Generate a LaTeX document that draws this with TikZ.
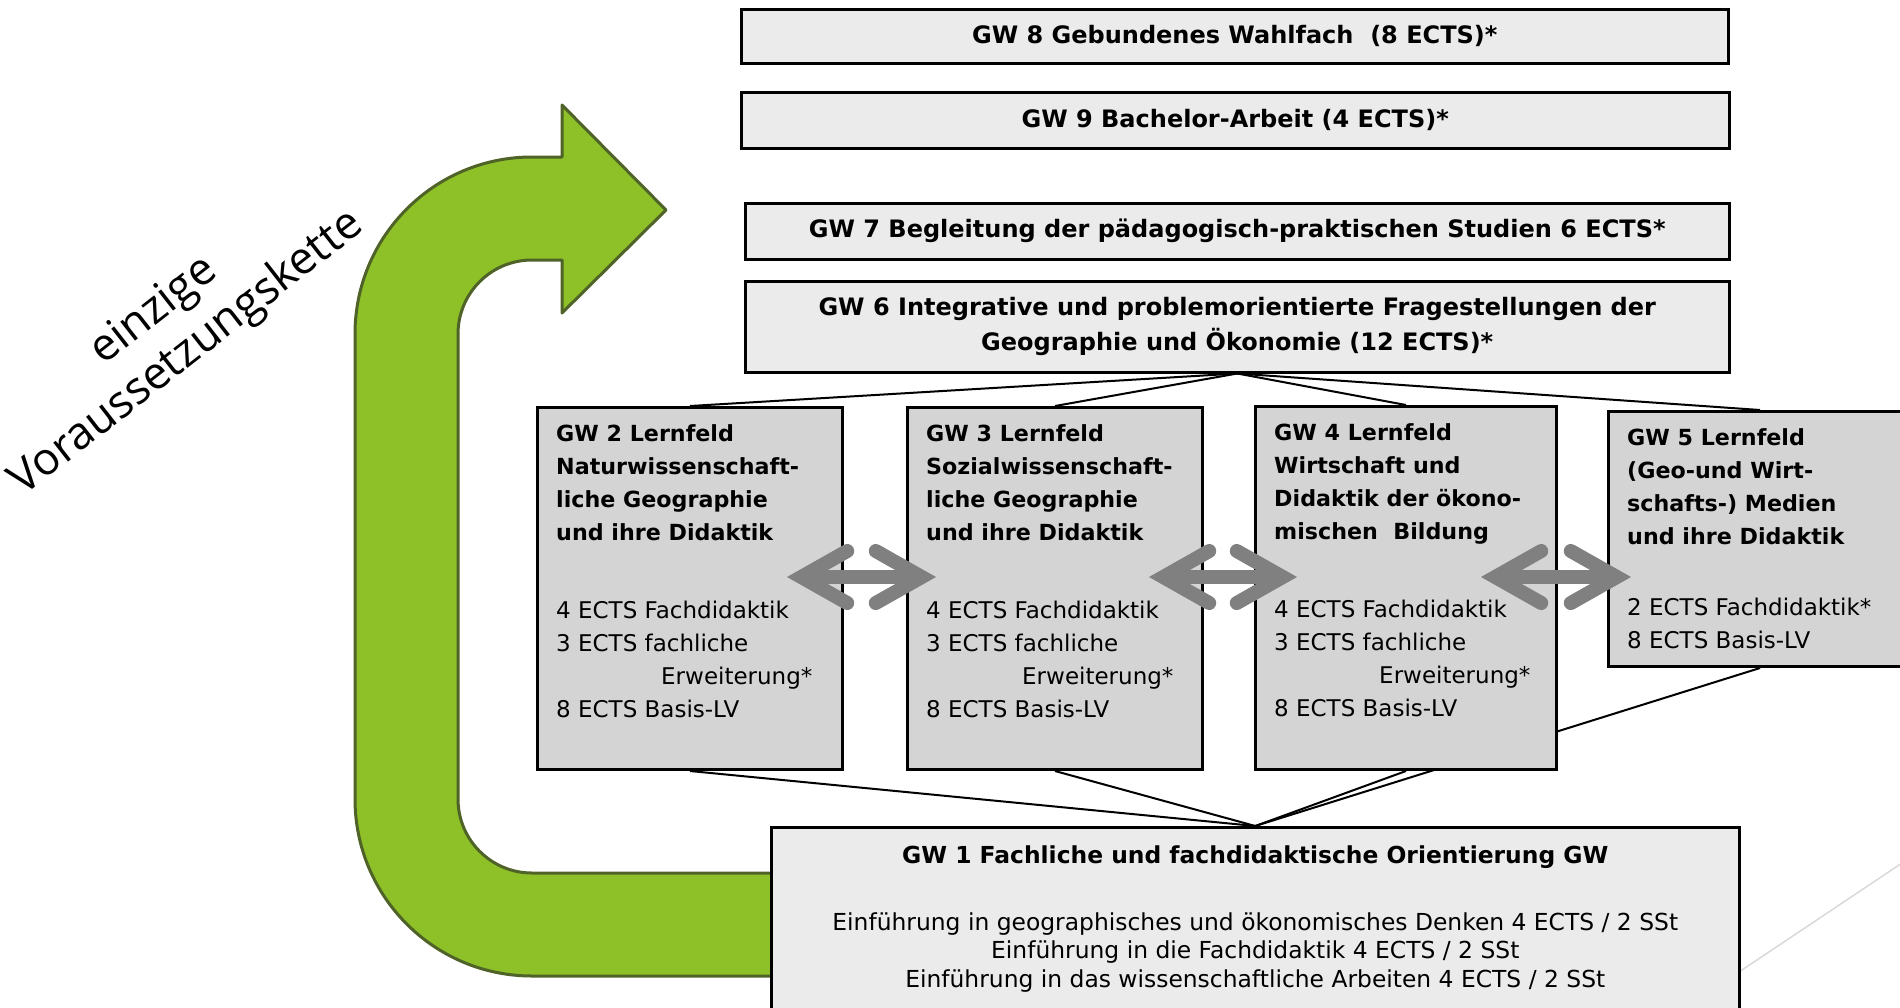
\documentclass[tikz,border=0pt]{standalone}
\usepackage{fontspec}
\setmainfont{DejaVu Sans}
\newfontfamily\chainfont{Open Sans}
\usetikzlibrary{arrows.meta}
\usetikzlibrary{positioning}
\usetikzlibrary{backgrounds}

\definecolor{boxlight}{HTML}{EBEBEB}
\definecolor{boxmid}{HTML}{D4D4D4}
\definecolor{chaingreen}{HTML}{8DC127}
\definecolor{chainedge}{HTML}{4F6228}
\definecolor{swapgray}{HTML}{808080}
\definecolor{decogray}{HTML}{D9D9D9}

\newcommand{\fieldhead}[1]{{\fontsize{22.2}{33}\selectfont\bfseries #1}}

\begin{document}
\begin{tikzpicture}[x=1pt,y=-1pt,
    modbox/.style={draw, line width=2.5pt, fill=boxlight, inner sep=0pt, anchor=north west,
      align=center, font=\fontsize{24}{35}\selectfont\bfseries},
    fieldbox/.style={draw, line width=3pt, fill=boxmid, inner sep=0pt, anchor=north west},
    fieldtext/.style={inner sep=0pt, anchor=north west, align=left, font=\fontsize{23}{33}\selectfont},
    fanline/.style={line width=2pt},
    swaparrow/.style={draw=swapgray, line width=14pt, <->,
      >={Straight Barb[length=46pt, width=52pt, line cap=round]}},
    chain/.style={fill=chaingreen, draw=chainedge, line width=3pt, line join=round}]
  \useasboundingbox (0,0) rectangle (1900,1007);

  % upper modules
  \node[modbox, minimum width=987pt, minimum height=54pt] (gw8) at (740,8) {GW 8 Gebundenes Wahlfach\ \ (8 ECTS)*};
  \node[modbox, minimum width=988pt, minimum height=56pt] (gw9) at (740,91) {GW 9 Bachelor-Arbeit (4 ECTS)*};
  \node[modbox, minimum width=984pt, minimum height=56pt] (gw7) at (744,202) {GW 7 Begleitung der pädagogisch-praktischen Studien 6 ECTS*};
  \node[modbox, minimum width=984pt, minimum height=91pt] (gw6) at (744,280) {GW 6 Integrative und problemorientierte Fragestellungen der\\Geographie und Ökonomie (12 ECTS)*};

  % Lernfelder
  \node[fieldbox, minimum width=305pt, minimum height=362pt] (gw2) at (536,406) {};
  \node[fieldbox, minimum width=295pt, minimum height=362pt] (gw3) at (906,406) {};
  \node[fieldbox, minimum width=301pt, minimum height=363pt] (gw4) at (1254,405) {};
  \node[fieldbox, minimum width=303pt, minimum height=255pt] (gw5) at (1607,410) {};

  \node[fieldtext] (t2) at ([shift={(20,18)}]gw2.north west) {\fieldhead{GW 2 Lernfeld}\\\fieldhead{Naturwissenschaft-}\\\fieldhead{liche Geographie}\\\fieldhead{und ihre Didaktik}\\[45pt]
    4 ECTS Fachdidaktik\\3 ECTS fachliche\\\hspace*{105pt}Erweiterung*\\8 ECTS Basis-LV};
  \node[fieldtext] (t3) at ([shift={(20,18)}]gw3.north west) {\fieldhead{GW 3 Lernfeld}\\\fieldhead{Sozialwissenschaft-}\\\fieldhead{liche Geographie}\\\fieldhead{und ihre Didaktik}\\[45pt]
    4 ECTS Fachdidaktik\\3 ECTS fachliche\\\hspace*{96pt}Erweiterung*\\8 ECTS Basis-LV};
  \node[fieldtext] (t4) at ([shift={(20,18)}]gw4.north west) {\fieldhead{GW 4 Lernfeld}\\\fieldhead{Wirtschaft und}\\\fieldhead{Didaktik der ökono-}\\\fieldhead{mischen\ \ Bildung}\\[45pt]
    4 ECTS Fachdidaktik\\3 ECTS fachliche\\\hspace*{105pt}Erweiterung*\\8 ECTS Basis-LV};
  \node[fieldtext] (t5) at ([shift={(20,18)}]gw5.north west) {\fieldhead{GW 5 Lernfeld}\\\fieldhead{(Geo-und Wirt-}\\\fieldhead{schafts-) Medien}\\\fieldhead{und ihre Didaktik}\\[38pt]
    2 ECTS Fachdidaktik*\\8 ECTS Basis-LV};

  % Orientierung
  \node[draw, line width=2.5pt, fill=boxlight, inner sep=0pt, anchor=north west,
    minimum width=968pt, minimum height=200pt] (gw1) at (770,826) {};
  \node[inner sep=0pt, anchor=north, align=center, font=\fontsize{23.4}{28.5}\selectfont] (t1)
    at ([shift={(0,20)}]gw1.north) {\textbf{GW 1 Fachliche und fachdidaktische Orientierung GW}\\[38pt]
    Einführung in geographisches und ökonomisches Denken 4 ECTS / 2 SSt\\
    Einführung in die Fachdidaktik 4 ECTS / 2 SSt\\
    Einführung in das wissenschaftliche Arbeiten 4 ECTS / 2 SSt};

  \begin{scope}[on background layer]
    % green chain arrow
    \draw[chain] (800,976) -- (532,976) arc[start angle=90, end angle=180, radius=177]
      -- (355,334) arc[start angle=180, end angle=270, radius=177]
      -- (562,157) -- (562,105) -- (666,210) -- (562,313) -- (562,260) -- (532,260)
      arc[start angle=270, end angle=180, radius=74]
      -- (458,799) arc[start angle=180, end angle=90, radius=74] -- (800,873) -- cycle;
    \draw[decogray, line width=1.5pt] (1715,988) -- (1905,861);
    % fan lines
    \draw[fanline] (gw6.south) -- (gw2.north);
    \draw[fanline] (gw6.south) -- (gw3.north);
    \draw[fanline] (gw6.south) -- (gw4.north);
    \draw[fanline] (gw6.south) -- (gw5.north);
    \draw[fanline] (gw1.north) -- (gw2.south);
    \draw[fanline] (gw1.north) -- (gw3.south);
    \draw[fanline] (gw1.north) -- (gw4.south);
    \draw[fanline] (gw1.north) -- (gw5.south);
  \end{scope}

  % exchange arrows
  \coordinate (s23a) at (787,577);
  \coordinate (s23b) at (936,577);
  \coordinate (s34a) at (1149,577);
  \coordinate (s34b) at (1297,577);
  \coordinate (s45a) at (1481,577);
  \coordinate (s45b) at (1631,577);
  \draw[swaparrow] (s23a) -- (s23b);
  \draw[swaparrow] (s34a) -- (s34b);
  \draw[swaparrow] (s45a) -- (s45b);

  \node[rotate=38, align=center, inner sep=0pt, font=\chainfont\fontsize{45}{54}\selectfont] (chainlabel)
    at (171,333) {einzige\\Voraussetzungskette};
\end{tikzpicture}
\end{document}
